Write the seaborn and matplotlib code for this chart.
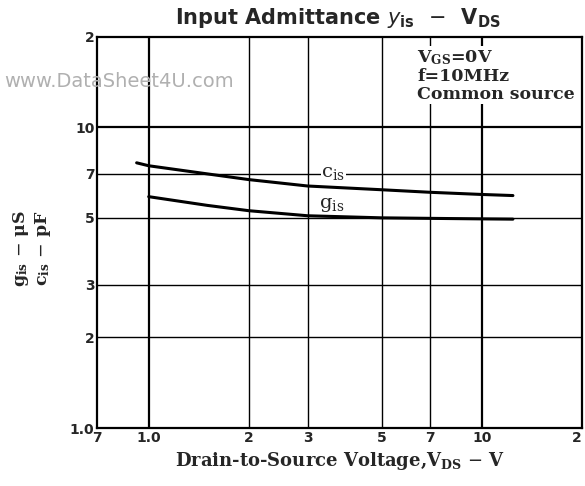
import pandas as pd
import seaborn as sns
import matplotlib.pyplot as plt
from matplotlib.ticker import FixedLocator, NullLocator

# values
vds_cis = [0.92, 1.0, 1.5, 2.0, 3.0, 5.0, 7.0, 10.0, 12.4]
cis = [7.62, 7.45, 7.0, 6.7, 6.38, 6.2, 6.08, 5.98, 5.93]
vds_gis = [1.0, 1.5, 2.0, 3.0, 5.0, 7.0, 10.0, 12.4]
gis = [5.88, 5.5, 5.28, 5.08, 5.0, 4.98, 4.96, 4.95]

x_ticks = [0.7, 1.0, 2, 3, 5, 7, 10, 20]
x_labels = ['7', '1.0', '2', '3', '5', '7', '10', '2']
y_ticks = [1.0, 2, 3, 5, 7, 10, 20]
y_labels = ['1.0', '2', '3', '5', '7', '10', '2']

df = pd.concat([
    pd.DataFrame({'VDS': vds_cis, 'val': cis, 'series': 'cis'}),
    pd.DataFrame({'VDS': vds_gis, 'val': gis, 'series': 'gis'}),
])

sns.set_style('white')
plt.rcParams['font.family'] = ['DejaVu Sans']
serif = 'DejaVu Serif'

fig = plt.figure(figsize=(5.85, 4.86), dpi=100)
ax = fig.add_axes([0.166, 0.1193, 0.829, 0.805])

sns.lineplot(data=df, x='VDS', y='val', hue='series', palette={'cis': 'black', 'gis': 'black'},
             linewidth=2.2, legend=False, ax=ax, zorder=4)

ax.set_xscale('log')
ax.set_yscale('log')
ax.set_xlim(0.7, 20)
ax.set_ylim(1.0, 20)

ax.xaxis.set_major_locator(FixedLocator(x_ticks))
ax.yaxis.set_major_locator(FixedLocator(y_ticks))
ax.xaxis.set_minor_locator(NullLocator())
ax.yaxis.set_minor_locator(NullLocator())
ax.set_xticklabels(x_labels, fontsize=10, fontweight='bold')
ax.set_yticklabels(y_labels, fontsize=10, fontweight='bold')
ax.get_xticklabels()[-1].set_ha('right')
ax.tick_params(length=0, pad=2)

# grid lines, decade lines heavier
for v in [1.0, 2, 3, 5, 7, 10]:
    ax.axvline(v, color='black', lw=1.6 if v in (1.0, 10) else 1.0, zorder=1)
for v in [2, 3, 5, 7, 10]:
    ax.axhline(v, color='black', lw=1.6 if v == 10 else 1.0, zorder=1)

for s in ax.spines.values():
    s.set_visible(True)
    s.set_color('black')
    s.set_linewidth(1.6)

ax.set_xlabel('Drain-to-Source Voltage,$\\mathregular{V_{DS}}$ $-$ V',
              fontsize=13, family=serif, fontweight='bold', labelpad=4)
ax.set_ylabel('$\\mathregular{g_{is}}$ $-$ μS\n$\\mathregular{c_{is}}$ $-$ pF',
              fontsize=12.5, family=serif, fontweight='bold', linespacing=1.2)
ax.yaxis.set_label_coords(-0.09, 0.46)

label_box = dict(facecolor='white', edgecolor='none', pad=0.5)
ax.text(3.3, 7.05, '$\\mathregular{c_{is}}$', fontsize=14, family=serif,
        bbox=label_box, va='center', ha='left', zorder=3)
ax.text(3.25, 5.5, '$\\mathregular{g_{is}}$', fontsize=14, family=serif,
        bbox=label_box, va='center', ha='left', zorder=3)

ax.text(0.66, 0.97, '$\\mathregular{V_{GS}}$=0V\nf=10MHz\nCommon source',
        transform=ax.transAxes, fontsize=12.5, family=serif, fontweight='bold',
        va='top', ha='left', linespacing=1.05,
        bbox=dict(facecolor='white', edgecolor='none', pad=1))

fig.text(0.578, 0.963, 'Input Admittance $\\mathit{y}$$\\mathregular{_{is}}$  $-$  $\\mathregular{V_{DS}}$',
         fontsize=15, fontweight='semibold', ha='center', va='center')

fig.text(0.008, 0.832, 'www.DataSheet4U.com', fontsize=14, color='#b0b0b0', ha='left', va='center')

plt.savefig('out.png', dpi=100)
